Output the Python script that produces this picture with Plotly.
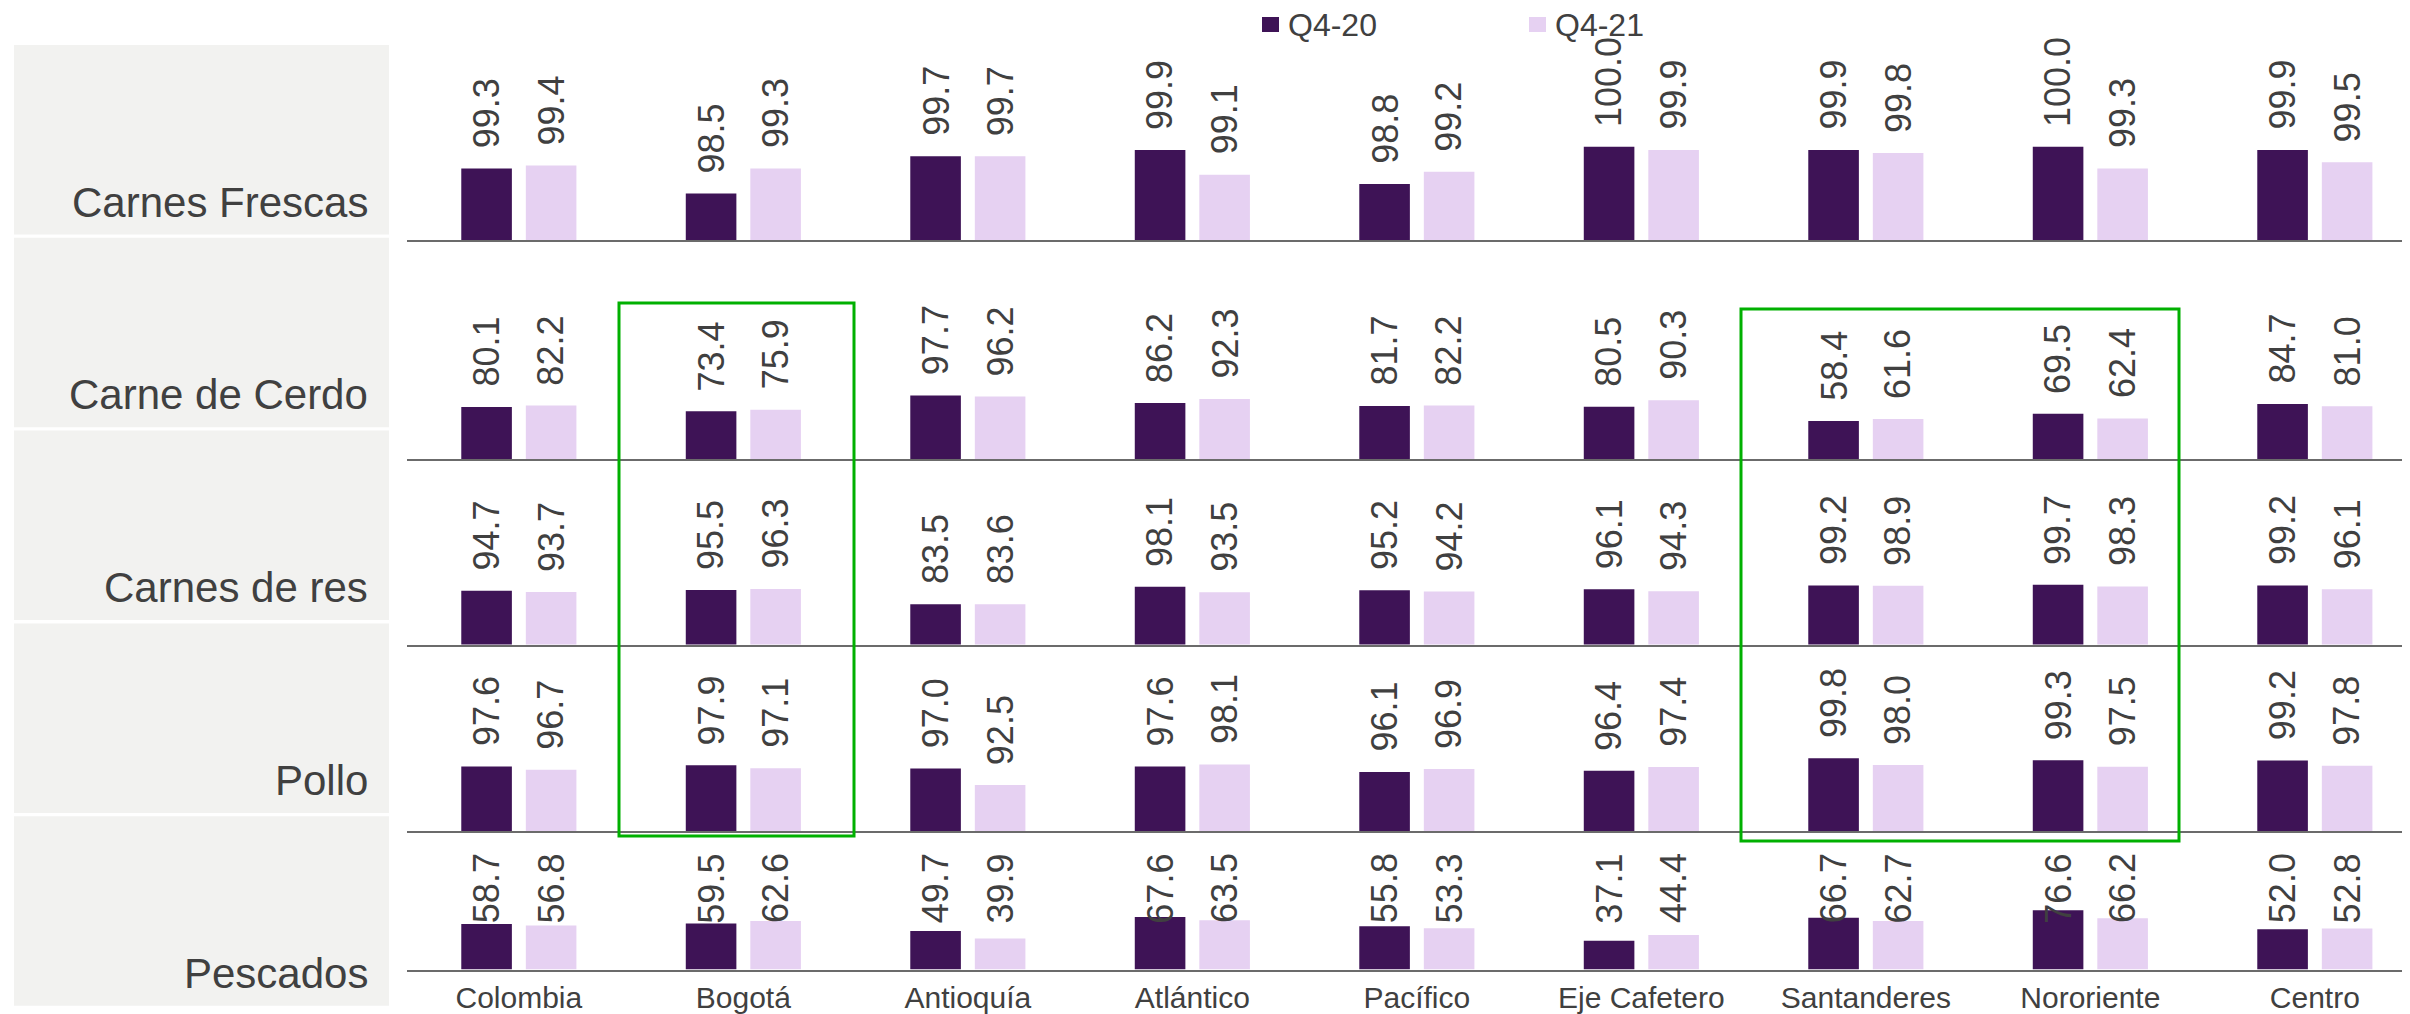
import plotly.graph_objects as go

W, H = 2410, 1014
OFF = 8  # page body margin in the browser
FW, FH = W - OFF, H - OFF

regions = ["Colombia", "Bogotá", "Antioquía", "Atlántico", "Pacífico",
           "Eje Cafetero", "Santanderes", "Nororiente", "Centro"]
products = ["Carnes Frescas", "Carne de Cerdo", "Carnes de res", "Pollo", "Pescados"]
series_names = ["Q4-20", "Q4-21"]

carnes_frescas_q420 = [99.3, 98.5, 99.7, 99.9, 98.8, 100.0, 99.9, 100.0, 99.9]
carnes_frescas_q421 = [99.4, 99.3, 99.7, 99.1, 99.2, 99.9, 99.8, 99.3, 99.5]
carne_cerdo_q420 = [80.1, 73.4, 97.7, 86.2, 81.7, 80.5, 58.4, 69.5, 84.7]
carne_cerdo_q421 = [82.2, 75.9, 96.2, 92.3, 82.2, 90.3, 61.6, 62.4, 81.0]
carnes_res_q420 = [94.7, 95.5, 83.5, 98.1, 95.2, 96.1, 99.2, 99.7, 99.2]
carnes_res_q421 = [93.7, 96.3, 83.6, 93.5, 94.2, 94.3, 98.9, 98.3, 96.1]
pollo_q420 = [97.6, 97.9, 97.0, 97.6, 96.1, 96.4, 99.8, 99.3, 99.2]
pollo_q421 = [96.7, 97.1, 92.5, 98.1, 96.9, 97.4, 98.0, 97.5, 97.8]
pescados_q420 = [58.7, 59.5, 49.7, 67.6, 55.8, 37.1, 66.7, 76.6, 52.0]
pescados_q421 = [56.8, 62.6, 39.9, 63.5, 53.3, 44.4, 62.7, 66.2, 52.8]

rows = [
    (carnes_frescas_q420, carnes_frescas_q421),
    (carne_cerdo_q420, carne_cerdo_q421),
    (carnes_res_q420, carnes_res_q421),
    (pollo_q420, pollo_q421),
    (pescados_q420, pescados_q421),
]

# ---- styling / layout constants ----
COLORS = ["#3E1356", "#E6D1F2"]
TXT = "#404040"
FONT = "Liberation Sans, Arial, sans-serif"
row_top_px = [40, 240, 459, 644.5, 831]
row_bot_px = [240, 459, 644.5, 831, 969.5]
y_ranges = [[97, 103.44], [0, 337], [50, 204.6], [80, 130.8], [0, 178.7]]
x_left_px = 406.6
cat_px = 224.5


def py(p):
    return 1 - (p - OFF) / FH


def pxx(p):
    return (p - OFF) / FW


fig = go.Figure()
layout = dict(
    width=FW, height=FH,
    margin=dict(l=0, r=0, t=0, b=0),
    paper_bgcolor="white", plot_bgcolor="white",
    barmode="group", bargap=0.425, bargroupgap=0.216,
    showlegend=False,
    font=dict(family=FONT, color=TXT),
)

x_span = (W - x_left_px) / cat_px
annotations = []
shapes = []

# gray row-label boxes
for i, name in enumerate(products):
    top = 45 + 192.8 * i
    bot = top + 189.5
    shapes.append(dict(type="rect", xref="paper", yref="paper",
                       x0=pxx(14), x1=pxx(389), y0=py(bot), y1=py(top),
                       fillcolor="#F2F2F0", line=dict(width=0), layer="below"))
    annotations.append(dict(text=name, xref="paper", yref="paper",
                            x=pxx(370), y=py(bot - 17 + 10), xanchor="right", yanchor="bottom",
                            showarrow=False, font=dict(size=42, color=TXT, family=FONT)))

for r, (s1, s2) in enumerate(rows):
    k = r + 1
    xa = "x" if k == 1 else f"x{k}"
    ya = "y" if k == 1 else f"y{k}"
    for si, vals in enumerate((s1, s2)):
        fig.add_trace(go.Bar(
            x=regions, y=vals, name=series_names[si],
            marker=dict(color=COLORS[si], line=dict(width=0)),
            xaxis=xa, yaxis=ya, offsetgroup=str(si),
            hovertemplate="%{x}: %{y:.1f}<extra>" + series_names[si] + "</extra>",
        ))
        for j, v in enumerate(vals):
            if k == 5:
                yref, yv, ysh = f"{ya} domain", 44 / (row_bot_px[4] - row_top_px[4]), 0
            else:
                yref, yv, ysh = ya, v, 18
            annotations.append(dict(
                text=f"{v:.1f}", x=regions[j], xref=xa, y=yv, yref=yref,
                xshift=(-32.2 if si == 0 else 32.2), yshift=ysh,
                textangle=-90, xanchor="center", yanchor="bottom", showarrow=False,
                font=dict(size=36, color=TXT, family=FONT)))

    layout["xaxis" if k == 1 else f"xaxis{k}"] = dict(
        domain=[pxx(x_left_px), 1], range=[-0.5, -0.5 + x_span],
        anchor=ya, showline=True, linecolor="#6B6B6B", linewidth=2,
        showgrid=False, zeroline=False, ticks="",
        showticklabels=(k == 5), tickfont=dict(size=30, color=TXT, family=FONT),
        fixedrange=True, automargin=False,
    )
    layout["yaxis" if k == 1 else f"yaxis{k}"] = dict(
        domain=[py(row_bot_px[r]), py(row_top_px[r])], range=y_ranges[r],
        anchor=xa, visible=False, fixedrange=True,
    )

# green highlight boxes
for (x0, y0, x1, y1) in [(619, 303, 854, 836), (1741, 309, 2179, 841)]:
    shapes.append(dict(type="rect", xref="paper", yref="paper",
                       x0=pxx(x0), x1=pxx(x1), y0=py(y1), y1=py(y0),
                       line=dict(color="#00B000", width=3), fillcolor="rgba(0,0,0,0)"))

# manual legend
for si, (sx, tx) in enumerate([(1262, 1286), (1529, 1553)]):
    shapes.append(dict(type="rect", xref="paper", yref="paper",
                       x0=pxx(sx), x1=pxx(sx + 17), y0=py(32), y1=py(17),
                       fillcolor=COLORS[si], line=dict(width=0)))
    annotations.append(dict(text=series_names[si], xref="paper", yref="paper",
                            x=pxx(tx), y=py(25), xanchor="left", yanchor="middle",
                            showarrow=False, font=dict(size=32, color=TXT, family=FONT)))

layout["annotations"] = annotations
layout["shapes"] = shapes
fig.update_layout(**layout)
fig.write_html("out.html")
